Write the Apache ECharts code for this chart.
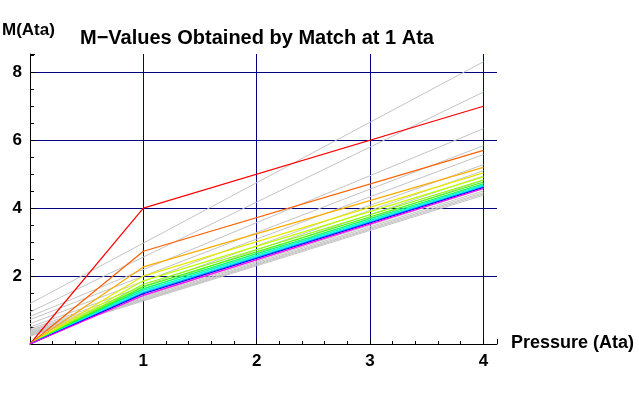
<!DOCTYPE html>
<html><head><meta charset="utf-8">
<script src="https://cdn.jsdelivr.net/npm/echarts@6/dist/echarts.min.js"></script>
<style>html,body{margin:0;padding:0;background:#fff}#c{width:639px;height:394px}</style>
</head><body><div id="c"></div>
<script>
// Colored "match at 1 Ata" lines: value at 1 Ata and at 4 Ata (start at 0,0)
var matchAt1 = [4.00, 2.73, 2.27, 2.00, 1.86, 1.76, 1.69, 1.63, 1.58, 1.54, 1.51, 1.48, 1.43];
var matchAt4 = [7.00, 5.70, 5.20, 5.04, 4.92, 4.83, 4.77, 4.72, 4.68, 4.65, 4.63, 4.61, 4.58];
var matchColors = ['#ff0000','#ff6000','#ffaa00','#e8e800','#c0ff00','#80ff00','#40ff00','#00ff60','#00ffc0','#00ffff','#00a0ff','#0000ff','#ff00ff'];
// Gray straight lines: value at 0 Ata and at 4 Ata
var grayAt0 = [1.19, 0.94, 0.81, 0.72, 0.60, 0.50, 0.44, 0.40, 0.37, 0.34, 0.32, 0.30, 0.28, 0.26, 0.25, 0.23];
var grayAt4 = [8.31, 7.42, 6.34, 5.84, 5.58, 5.28, 5.10, 4.95, 4.82, 4.72, 4.64, 4.57, 4.51, 4.46, 4.42, 4.38];
var xTicks = [1, 2, 3, 4];
var yTicks = [2, 4, 6, 8];

var series = [];
grayAt0.forEach(function (a, i) {
  series.push({type:'line', data:[[0,a],[4,grayAt4[i]]], symbol:'none', silent:true,
    lineStyle:{color:'#c4c4c4', width:1}, z:2});
});
matchAt1.forEach(function (m, i) {
  series.push({type:'line', data:[[0,0],[1,m],[4,matchAt4[i]]], symbol:'none', silent:true,
    lineStyle:{color:matchColors[i], width:1.2}, z:3});
});

var chart = echarts.init(document.getElementById('c'));
var bold = {fontFamily:'Liberation Sans, Arial, sans-serif', fontWeight:'bold', fill:'#000'};
chart.setOption({
  animation:false,
  backgroundColor:'#fff',
  grid:{left:30, right:142, top:54, bottom:50},
  xAxis:{type:'value', min:0, max:4.12, interval:1,
    axisLine:{lineStyle:{color:'#000', width:1}},
    axisTick:{show:true, inside:true, length:5, lineStyle:{color:'#000'}},
    minorTick:{show:true, splitNumber:5, length:3, lineStyle:{color:'#000'}},
    splitLine:{show:true, showMinLine:false, showMaxLine:false, lineStyle:{color:'#000080', width:1}},
    axisLabel:{fontSize:17, fontWeight:'bold', fontFamily:'Liberation Sans, Arial', color:'#000', margin:9,
      showMaxLabel:false,
      formatter:function(v){return xTicks.indexOf(v)>=0 ? String(v) : '';}}
  },
  yAxis:{type:'value', min:0, max:8.54, interval:2,
    axisLine:{show:true, lineStyle:{color:'#000', width:1}},
    axisTick:{show:true, inside:true, length:5, lineStyle:{color:'#000'}},
    minorTick:{show:true, splitNumber:4, length:4, lineStyle:{color:'#000'}},
    splitLine:{show:true, showMinLine:false, showMaxLine:false, lineStyle:{color:'#000080', width:1}},
    axisLabel:{fontSize:17, fontWeight:'bold', fontFamily:'Liberation Sans, Arial', color:'#000', margin:8,
      showMaxLabel:false,
      formatter:function(v){return yTicks.indexOf(v)>=0 ? String(v) : '';}}
  },
  graphic:[
    {type:'text', left:2, top:22, style:Object.assign({text:'M(Ata)', fontSize:17}, bold)},
    {type:'text', left:80, top:28, style:Object.assign({text:'M\u2212Values Obtained by Match at 1 Ata', fontSize:20}, bold)},
    {type:'text', left:511, top:334, style:Object.assign({text:'Pressure (Ata)', fontSize:18}, bold)}
  ],
  series:series
});
</script></body></html>
